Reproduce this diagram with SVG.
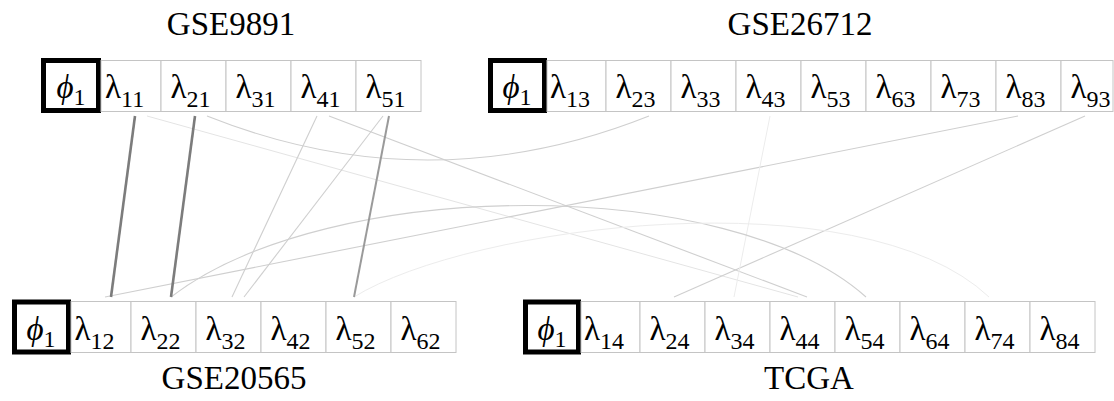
<svg xmlns="http://www.w3.org/2000/svg" width="1114" height="401" viewBox="0 0 1114 401">
<style>
.bg{fill:#fff}
.cell{fill:#fff;stroke:#c4c4c4;stroke-width:1}
.phi{fill:none;stroke:#000;stroke-width:5}
.lab{font-family:"Liberation Serif","DejaVu Serif","Times New Roman",serif;font-size:33px;fill:#000}
.sub{font-size:24px}
.ph{font-style:italic}
.title{font-family:"Liberation Serif","Times New Roman",serif;font-size:33px;fill:#000;text-anchor:middle}
.ln{fill:none;stroke-linecap:butt}
.d1{stroke:#7c7c7c;stroke-width:2.6}
.d2{stroke:#9a9a9a;stroke-width:2}
.l1{stroke:#cfcfcf;stroke-width:1.1}
.l2{stroke:#e4e4e4;stroke-width:1}
.l3{stroke:#ececec;stroke-width:1}
</style>
<rect class="bg" x="0" y="0" width="1114" height="401"/>

<g id="connectors">
<path class="ln l2" d="M147,116 L798,297"/>
<path class="ln l1" d="M329,116 L807,297"/>
<path class="ln l1" d="M317,116 L232,297"/>
<path class="ln l1" d="M383,116 L244,297"/>
<path class="ln l1" d="M1018,116 L105,297"/>
<path class="ln l1" d="M1085,116 L674,297"/>
<path class="ln l3" d="M770,116 L734,297"/>
<path class="ln l1" d="M207,116 Q428,204 649,116"/>
<path class="ln l1" d="M171,297 C330,175 730,175 866,297"/>
<path class="ln l3" d="M354,297 C470,225 860,175 989,297"/>
<path class="ln d1" d="M135,116 L111,297"/>
<path class="ln d1" d="M195,116 L171,297"/>
<path class="ln d2" d="M389,116 L354,297"/>
</g>

<g id="GSE9891">
<text class="title" x="231" y="35">GSE9891</text>
<g id="n-phi1-GSE9891"><rect class="cell" x="43.5" y="60.5" width="57" height="51"/><rect class="phi" x="43.5" y="60.5" width="55" height="50"/><text class="lab" x="71" y="98" text-anchor="middle"><tspan class="ph">ϕ</tspan><tspan class="sub" dy="7">1</tspan></text></g>
<g id="n-l11"><rect class="cell" x="101" y="60.5" width="60" height="51"/><text class="lab" x="105" y="98">λ<tspan class="sub" dy="9">11</tspan></text></g>
<g id="n-l21"><rect class="cell" x="161" y="60.5" width="65" height="51"/><text class="lab" x="170.5" y="98">λ<tspan class="sub" dy="9">21</tspan></text></g>
<g id="n-l31"><rect class="cell" x="226" y="60.5" width="65" height="51"/><text class="lab" x="235.5" y="98">λ<tspan class="sub" dy="9">31</tspan></text></g>
<g id="n-l41"><rect class="cell" x="291" y="60.5" width="65" height="51"/><text class="lab" x="300.5" y="98">λ<tspan class="sub" dy="9">41</tspan></text></g>
<g id="n-l51"><rect class="cell" x="356" y="60.5" width="65" height="51"/><text class="lab" x="365.5" y="98">λ<tspan class="sub" dy="9">51</tspan></text></g>
</g>

<g id="GSE26712">
<text class="title" x="800" y="35">GSE26712</text>
<g id="n-phi1-GSE26712"><rect class="cell" x="490.5" y="60.5" width="56" height="51"/><rect class="phi" x="490.5" y="60.5" width="54" height="50"/><text class="lab" x="517" y="98" text-anchor="middle"><tspan class="ph">ϕ</tspan><tspan class="sub" dy="7">1</tspan></text></g>
<g id="n-l13"><rect class="cell" x="547" y="60.5" width="59" height="51"/><text class="lab" x="550" y="98">λ<tspan class="sub" dy="9">13</tspan></text></g>
<g id="n-l23"><rect class="cell" x="606" y="60.5" width="65" height="51"/><text class="lab" x="615.5" y="98">λ<tspan class="sub" dy="9">23</tspan></text></g>
<g id="n-l33"><rect class="cell" x="671" y="60.5" width="65" height="51"/><text class="lab" x="680.5" y="98">λ<tspan class="sub" dy="9">33</tspan></text></g>
<g id="n-l43"><rect class="cell" x="736" y="60.5" width="65" height="51"/><text class="lab" x="745.5" y="98">λ<tspan class="sub" dy="9">43</tspan></text></g>
<g id="n-l53"><rect class="cell" x="801" y="60.5" width="65" height="51"/><text class="lab" x="810.5" y="98">λ<tspan class="sub" dy="9">53</tspan></text></g>
<g id="n-l63"><rect class="cell" x="866" y="60.5" width="65" height="51"/><text class="lab" x="875.5" y="98">λ<tspan class="sub" dy="9">63</tspan></text></g>
<g id="n-l73"><rect class="cell" x="931" y="60.5" width="65" height="51"/><text class="lab" x="940.5" y="98">λ<tspan class="sub" dy="9">73</tspan></text></g>
<g id="n-l83"><rect class="cell" x="996" y="60.5" width="65" height="51"/><text class="lab" x="1005.5" y="98">λ<tspan class="sub" dy="9">83</tspan></text></g>
<g id="n-l93"><rect class="cell" x="1061" y="60.5" width="52" height="51"/><text class="lab" x="1070.5" y="98">λ<tspan class="sub" dy="9">93</tspan></text></g>
</g>

<g id="GSE20565">
<text class="title" x="234" y="389">GSE20565</text>
<g id="n-phi1-GSE20565"><rect class="cell" x="14.5" y="301.5" width="57" height="51"/><rect class="phi" x="14.5" y="302" width="54" height="50"/><text class="lab" x="41" y="340" text-anchor="middle"><tspan class="ph">ϕ</tspan><tspan class="sub" dy="7">1</tspan></text></g>
<g id="n-l12"><rect class="cell" x="71" y="301.5" width="60" height="51"/><text class="lab" x="74.5" y="340">λ<tspan class="sub" dy="9">12</tspan></text></g>
<g id="n-l22"><rect class="cell" x="131" y="301.5" width="65" height="51"/><text class="lab" x="140.5" y="340">λ<tspan class="sub" dy="9">22</tspan></text></g>
<g id="n-l32"><rect class="cell" x="196" y="301.5" width="65" height="51"/><text class="lab" x="205.5" y="340">λ<tspan class="sub" dy="9">32</tspan></text></g>
<g id="n-l42"><rect class="cell" x="261" y="301.5" width="65" height="51"/><text class="lab" x="270.5" y="340">λ<tspan class="sub" dy="9">42</tspan></text></g>
<g id="n-l52"><rect class="cell" x="326" y="301.5" width="65" height="51"/><text class="lab" x="335.5" y="340">λ<tspan class="sub" dy="9">52</tspan></text></g>
<g id="n-l62"><rect class="cell" x="391" y="301.5" width="65" height="51"/><text class="lab" x="400.5" y="340">λ<tspan class="sub" dy="9">62</tspan></text></g>
</g>

<g id="TCGA">
<text class="title" x="809" y="389">TCGA</text>
<g id="n-phi1-TCGA"><rect class="cell" x="525.5" y="301.5" width="56" height="51"/><rect class="phi" x="525.5" y="302" width="53" height="50"/><text class="lab" x="552" y="340" text-anchor="middle"><tspan class="ph">ϕ</tspan><tspan class="sub" dy="7">1</tspan></text></g>
<g id="n-l14"><rect class="cell" x="581" y="301.5" width="59" height="51"/><text class="lab" x="584" y="340">λ<tspan class="sub" dy="9">14</tspan></text></g>
<g id="n-l24"><rect class="cell" x="640" y="301.5" width="65" height="51"/><text class="lab" x="649.5" y="340">λ<tspan class="sub" dy="9">24</tspan></text></g>
<g id="n-l34"><rect class="cell" x="705" y="301.5" width="65" height="51"/><text class="lab" x="714.5" y="340">λ<tspan class="sub" dy="9">34</tspan></text></g>
<g id="n-l44"><rect class="cell" x="770" y="301.5" width="65" height="51"/><text class="lab" x="779.5" y="340">λ<tspan class="sub" dy="9">44</tspan></text></g>
<g id="n-l54"><rect class="cell" x="835" y="301.5" width="65" height="51"/><text class="lab" x="844.5" y="340">λ<tspan class="sub" dy="9">54</tspan></text></g>
<g id="n-l64"><rect class="cell" x="900" y="301.5" width="65" height="51"/><text class="lab" x="909.5" y="340">λ<tspan class="sub" dy="9">64</tspan></text></g>
<g id="n-l74"><rect class="cell" x="965" y="301.5" width="65" height="51"/><text class="lab" x="974.5" y="340">λ<tspan class="sub" dy="9">74</tspan></text></g>
<g id="n-l84"><rect class="cell" x="1030" y="301.5" width="65" height="51"/><text class="lab" x="1039.5" y="340">λ<tspan class="sub" dy="9">84</tspan></text></g>
</g>
</svg>
